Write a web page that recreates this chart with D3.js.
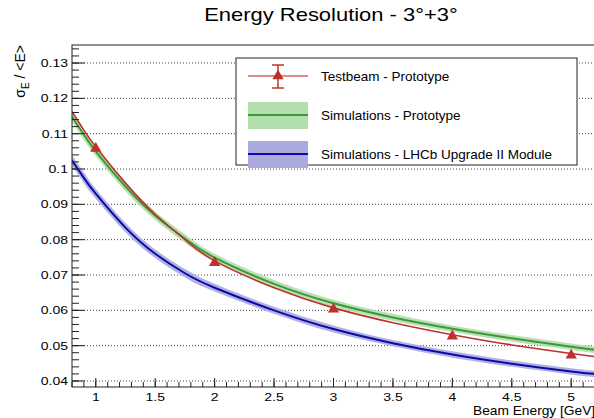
<!DOCTYPE html>
<html>
<head>
<meta charset="utf-8">
<script src="https://cdn.jsdelivr.net/npm/d3@7"></script>
<style>
  body { margin: 0; background: #ffffff; }
  svg { display: block; font-family: "Liberation Sans", Arial, sans-serif; }
</style>
</head>
<body>
<div id="chart"></div>
<script>
// values
let energies = [0.8, 0.9, 1, 1.25, 1.5, 1.75, 2, 2.5, 3, 3.5, 4, 4.5, 5, 5.2];
let testbeamFit = [0.1162, 0.1110, 0.1063, 0.0960, 0.0872, 0.0800, 0.0740, 0.0664, 0.0607, 0.0565, 0.0531, 0.0502, 0.0478, 0.0469];
let simProto = [0.1148, 0.1097, 0.1050, 0.0950, 0.0868, 0.0803, 0.0749, 0.0675, 0.0620, 0.0580, 0.0548, 0.0521, 0.0497, 0.0488];
let simProtoErr = [0.0016, 0.0015, 0.0014, 0.0013, 0.0012, 0.0012, 0.0011, 0.0011, 0.0010, 0.0010, 0.0009, 0.0009, 0.0009, 0.0009];
let simLHCb = [0.1024, 0.0975, 0.0930, 0.0834, 0.0760, 0.0705, 0.0664, 0.0600, 0.0547, 0.0507, 0.0475, 0.0449, 0.0427, 0.0420];
let simLHCbErr = [0.0015, 0.0015, 0.0014, 0.0013, 0.0012, 0.0012, 0.0011, 0.0010, 0.0010, 0.0009, 0.0009, 0.0009, 0.0009, 0.0009];

let beamE = [1, 2, 3, 4, 5];
let beamRes = [0.1058, 0.0735, 0.0603, 0.0527, 0.0473];
let beamErr = [0.0008, 0.0006, 0.0005, 0.0005, 0.0004];

let yTicks = [0.04, 0.05, 0.06, 0.07, 0.08, 0.09, 0.1, 0.11, 0.12, 0.13];
let xTicks = [1, 1.5, 2, 2.5, 3, 3.5, 4, 4.5, 5];

let legendLabels = ["Testbeam - Prototype", "Simulations - Prototype", "Simulations - LHCb Upgrade II Module"];

let colors = { red: "#c0302a", green: "#3a9a35", greenBand: "#b3deae", blue: "#0a0aa8", blueBand: "#aaaadf" };

let width = 594, height = 418;
let frame = { left: 72, top: 45, right: 595, bottom: 387 };

let svg = d3.select("#chart").append("svg")
  .attr("width", width)
  .attr("height", height);

let x = d3.scaleLinear().domain([0.8, 5.2]).range([frame.left, frame.right]);
let y = d3.scaleLinear().domain([0.0383, 0.1351]).range([frame.bottom, frame.top]);

svg.append("clipPath").attr("id", "plotclip")
  .append("rect")
  .attr("x", frame.left).attr("y", frame.top)
  .attr("width", frame.right - frame.left).attr("height", frame.bottom - frame.top);

// dotted horizontal grid
svg.append("g").selectAll("line").data(yTicks).join("line")
  .attr("x1", frame.left).attr("x2", frame.right)
  .attr("y1", d => y(d)).attr("y2", d => y(d))
  .attr("stroke", "#444").attr("stroke-width", 1)
  .attr("stroke-dasharray", "1,2");

let plot = svg.append("g").attr("clip-path", "url(#plotclip)");

function band(vals, errs) {
  return d3.area()
    .curve(d3.curveNatural)
    .x((d, i) => x(energies[i]))
    .y0((d, i) => y(vals[i] - errs[i]))
    .y1((d, i) => y(vals[i] + errs[i]))(vals);
}

let line = d3.line()
  .curve(d3.curveNatural)
  .x((d, i) => x(energies[i]))
  .y(d => y(d));

plot.append("path").attr("d", band(simProto, simProtoErr)).attr("fill", colors.greenBand).attr("opacity", 0.9);
plot.append("path").attr("d", band(simLHCb, simLHCbErr)).attr("fill", colors.blueBand).attr("opacity", 0.9);

plot.append("path").attr("d", line(simProto)).attr("fill", "none").attr("stroke", colors.green).attr("stroke-width", 2);
plot.append("path").attr("d", line(simLHCb)).attr("fill", "none").attr("stroke", colors.blue).attr("stroke-width", 2);
plot.append("path").attr("d", line(testbeamFit)).attr("fill", "none").attr("stroke", colors.red).attr("stroke-width", 1.6);

// testbeam points with error bars
let tri = d3.symbol().type(d3.symbolTriangle).size(55);
let pts = plot.append("g").selectAll("g").data(beamE).join("g")
  .attr("transform", (d, i) => `translate(${x(d)},${y(beamRes[i])})`);
pts.append("line")
  .attr("y1", (d, i) => y(beamRes[i] + beamErr[i]) - y(beamRes[i]))
  .attr("y2", (d, i) => y(beamRes[i] - beamErr[i]) - y(beamRes[i]))
  .attr("stroke", colors.red);
pts.append("path").attr("d", tri).attr("fill", colors.red);

// frame
svg.append("rect")
  .attr("x", frame.left).attr("y", frame.top)
  .attr("width", frame.right - frame.left).attr("height", frame.bottom - frame.top)
  .attr("fill", "none").attr("stroke", "#222").attr("stroke-width", 1);

// y axis ticks (ROOT style, inside the frame)
let yMinor = d3.range(0.038, 0.1352, 0.002).filter(v => v >= 0.0383);
svg.append("g").selectAll("line").data(yMinor).join("line")
  .attr("x1", frame.left).attr("x2", frame.left + 7)
  .attr("y1", d => y(d)).attr("y2", d => y(d))
  .attr("stroke", "#222");
svg.append("g").selectAll("line").data(yTicks).join("line")
  .attr("x1", frame.left).attr("x2", frame.left + 13)
  .attr("y1", d => y(d)).attr("y2", d => y(d))
  .attr("stroke", "#222");
svg.append("g").selectAll("text").data(yTicks).join("text")
  .attr("transform", d => `translate(${frame.left - 4},${y(d) + 4}) scale(1.22,1)`)
  .attr("text-anchor", "end")
  .attr("font-size", 11.5)
  .text(d => d3.format("")(d));

// x axis ticks
let xMinor = d3.range(8, 53).map(v => v / 10);
svg.append("g").selectAll("line").data(xMinor).join("line")
  .attr("x1", d => x(d)).attr("x2", d => x(d))
  .attr("y1", frame.bottom).attr("y2", frame.bottom - 5)
  .attr("stroke", "#222");
svg.append("g").selectAll("line").data(xTicks).join("line")
  .attr("x1", d => x(d)).attr("x2", d => x(d))
  .attr("y1", frame.bottom).attr("y2", frame.bottom - 9)
  .attr("stroke", "#222");
svg.append("g").selectAll("text").data(xTicks).join("text")
  .attr("transform", d => `translate(${x(d)},401) scale(1.22,1)`)
  .attr("text-anchor", "middle")
  .attr("font-size", 11.5)
  .text(d => d);

// titles
svg.append("text")
  .attr("transform", "translate(331,21) scale(1.22,1)")
  .attr("text-anchor", "middle")
  .attr("font-size", 18)
  .text("Energy Resolution - 3°+3°");

svg.append("text")
  .attr("transform", "translate(473,415) scale(1.1,1)")
  .attr("font-size", 12.5)
  .text("Beam Energy [GeV]");

let yl = svg.append("text")
  .attr("transform", "translate(25,45) rotate(-90)")
  .attr("text-anchor", "end")
  .attr("font-size", 14);
yl.append("tspan").text("σ");
yl.append("tspan").attr("font-size", 10).attr("dy", 4).text("E");
yl.append("tspan").attr("dy", -4).text(" / <E>");

// legend
let leg = svg.append("g");
leg.append("rect")
  .attr("x", 236).attr("y", 58).attr("width", 341).attr("height", 107)
  .attr("fill", "#fff").attr("stroke", "#222").attr("stroke-width", 1);

let rowY = [76, 115, 154];
let l0 = leg.append("g").attr("transform", `translate(278,${rowY[0]})`);
l0.append("line").attr("x1", -30).attr("x2", 30).attr("stroke", colors.red).attr("stroke-opacity", 0.75).attr("stroke-width", 1.5);
l0.append("line").attr("y1", -11).attr("y2", 12).attr("stroke", colors.red).attr("stroke-width", 1.5);
l0.append("line").attr("x1", -6).attr("x2", 6).attr("y1", -11).attr("y2", -11).attr("stroke", colors.red).attr("stroke-width", 1.5);
l0.append("line").attr("x1", -6).attr("x2", 6).attr("y1", 12).attr("y2", 12).attr("stroke", colors.red).attr("stroke-width", 1.5);
l0.append("path").attr("d", tri).attr("fill", colors.red);

[[colors.greenBand, colors.green], [colors.blueBand, colors.blue]].forEach(function (c, i) {
  let g = leg.append("g").attr("transform", `translate(278,${rowY[i + 1]})`);
  g.append("rect").attr("x", -30).attr("y", -13).attr("width", 60).attr("height", 27).attr("fill", c[0]);
  g.append("line").attr("x1", -30).attr("x2", 30).attr("stroke", c[1]).attr("stroke-width", 2);
});

leg.selectAll("text.lab").data(legendLabels).join("text")
  .attr("class", "lab")
  .attr("x", 321).attr("y", (d, i) => rowY[i] + 5)
  .attr("font-size", 13.5)
  .text(d => d);
</script>
</body>
</html>
